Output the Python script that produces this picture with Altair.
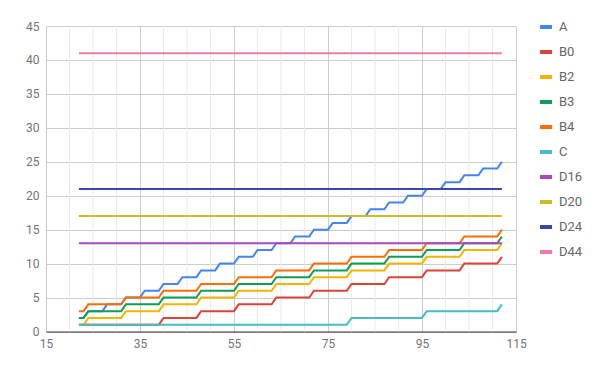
import altair as alt
import pandas as pd

# x positions of the samples (integers 22..112)
x = list(range(22, 113))

A = [2, 2,
     3, 3, 3, 3, 4, 4, 4, 4, 5, 5, 5, 5, 6, 6, 6, 6,
     7, 7, 7, 7, 8, 8, 8, 8, 9, 9, 9, 9, 10, 10, 10, 10,
     11, 11, 11, 11, 12, 12, 12, 12, 13, 13, 13, 13, 14, 14, 14, 14,
     15, 15, 15, 15, 16, 16, 16, 16, 17, 17, 17, 17, 18, 18, 18, 18,
     19, 19, 19, 19, 20, 20, 20, 20, 21, 21, 21, 21, 22, 22, 22, 22,
     23, 23, 23, 23, 24, 24, 24, 24,
     25]

B0 = [1, 1,
      1, 1, 1, 1, 1, 1, 1, 1,
      1, 1, 1, 1, 1, 1, 1, 1,
      2, 2, 2, 2, 2, 2, 2, 2,
      3, 3, 3, 3, 3, 3, 3, 3,
      4, 4, 4, 4, 4, 4, 4, 4,
      5, 5, 5, 5, 5, 5, 5, 5,
      6, 6, 6, 6, 6, 6, 6, 6,
      7, 7, 7, 7, 7, 7, 7, 7,
      8, 8, 8, 8, 8, 8, 8, 8,
      9, 9, 9, 9, 9, 9, 9, 9,
      10, 10, 10, 10, 10, 10, 10, 10,
      11]

B2 = [1, 1,
      2, 2, 2, 2, 2, 2, 2, 2,
      3, 3, 3, 3, 3, 3, 3, 3,
      4, 4, 4, 4, 4, 4, 4, 4,
      5, 5, 5, 5, 5, 5, 5, 5,
      6, 6, 6, 6, 6, 6, 6, 6,
      7, 7, 7, 7, 7, 7, 7, 7,
      8, 8, 8, 8, 8, 8, 8, 8,
      9, 9, 9, 9, 9, 9, 9, 9,
      10, 10, 10, 10, 10, 10, 10, 10,
      11, 11, 11, 11, 11, 11, 11, 11,
      12, 12, 12, 12, 12, 12, 12, 12,
      13]

B3 = [2, 2,
      3, 3, 3, 3, 3, 3, 3, 3,
      4, 4, 4, 4, 4, 4, 4, 4,
      5, 5, 5, 5, 5, 5, 5, 5,
      6, 6, 6, 6, 6, 6, 6, 6,
      7, 7, 7, 7, 7, 7, 7, 7,
      8, 8, 8, 8, 8, 8, 8, 8,
      9, 9, 9, 9, 9, 9, 9, 9,
      10, 10, 10, 10, 10, 10, 10, 10,
      11, 11, 11, 11, 11, 11, 11, 11,
      12, 12, 12, 12, 12, 12, 12, 12,
      13, 13, 13, 13, 13, 13, 13, 13,
      14]

B4 = [3, 3,
      4, 4, 4, 4, 4, 4, 4, 4,
      5, 5, 5, 5, 5, 5, 5, 5,
      6, 6, 6, 6, 6, 6, 6, 6,
      7, 7, 7, 7, 7, 7, 7, 7,
      8, 8, 8, 8, 8, 8, 8, 8,
      9, 9, 9, 9, 9, 9, 9, 9,
      10, 10, 10, 10, 10, 10, 10, 10,
      11, 11, 11, 11, 11, 11, 11, 11,
      12, 12, 12, 12, 12, 12, 12, 12,
      13, 13, 13, 13, 13, 13, 13, 13,
      14, 14, 14, 14, 14, 14, 14, 14,
      15]

C = [1, 1,
     1, 1, 1, 1, 1, 1, 1, 1, 1, 1, 1, 1, 1, 1, 1, 1,
     1, 1, 1, 1, 1, 1, 1, 1, 1, 1, 1, 1, 1, 1, 1, 1,
     1, 1, 1, 1, 1, 1, 1, 1, 1, 1, 1, 1, 1, 1, 1, 1,
     1, 1, 1, 1, 1, 1, 1, 1,
     2, 2, 2, 2, 2, 2, 2, 2, 2, 2, 2, 2, 2, 2, 2, 2,
     3, 3, 3, 3, 3, 3, 3, 3, 3, 3, 3, 3, 3, 3, 3, 3,
     4]

# constant series: endpoints of the horizontal lines
xd = [22, 112]
D16 = [13, 13]
D20 = [17, 17]
D24 = [21, 21]
D44 = [41, 41]

series = ["A", "B0", "B2", "B3", "B4", "C", "D16", "D20", "D24", "D44"]
colors = ["#4285F4", "#DB4437", "#F4B400", "#0F9D58", "#FF6D00",
          "#46BDC6", "#AB47BC", "#C6BE28", "#3949AB", "#F27BA5"]

x_major = [15, 35, 55, 75, 95, 115]
x_minor = [20, 25, 30, 40, 45, 50, 60, 65, 70, 80, 85, 90, 100, 105, 110]
y_ticks = [0, 5, 10, 15, 20, 25, 30, 35, 40, 45]

rows = []
for name, vals in [("A", A), ("B0", B0), ("B2", B2), ("B3", B3), ("B4", B4), ("C", C)]:
    for xi, v in zip(x, vals):
        rows.append({"series": name, "x": xi, "y": v})
for name, vals in [("D16", D16), ("D20", D20), ("D24", D24), ("D44", D44)]:
    for xi, v in zip(xd, vals):
        rows.append({"series": name, "x": xi, "y": v})
df = pd.DataFrame(rows)
df_minor = pd.DataFrame({"x": x_minor})

xscale = alt.Scale(domain=[15, 115], nice=False, zero=False)
yscale = alt.Scale(domain=[0, 45], nice=False)

xaxis = alt.Axis(values=x_major, title=None, grid=True, gridColor="#cccccc",
                 ticks=False, domain=True, domainColor="#333333",
                 labelPadding=7, labelFont="Roboto", labelFontSize=12,
                 labelColor="#757575", labelFlush=False)

minor = alt.Chart(df_minor).mark_rule(color="#ebebeb", strokeWidth=1).encode(
    x=alt.X("x:Q", scale=xscale, axis=xaxis)
)

lines = alt.Chart(df).mark_line(strokeWidth=2, interpolate="linear").encode(
    x=alt.X("x:Q", scale=xscale, axis=xaxis),
    y=alt.Y("y:Q", scale=yscale,
            axis=alt.Axis(values=y_ticks, title=None, grid=True, gridColor="#cccccc",
                          ticks=False, domain=False, labelPadding=7,
                          labelFont="Roboto", labelFontSize=12, labelColor="#757575")),
    color=alt.Color("series:N", scale=alt.Scale(domain=series, range=colors),
                    legend=alt.Legend(title=None, orient="none", legendX=492, legendY=-7,
                                      symbolType="stroke", symbolSize=144,
                                      symbolStrokeWidth=4, labelFont="Roboto",
                                      labelFontSize=13, labelColor="#666666",
                                      labelOffset=5, rowPadding=9, padding=0)),
    detail="series:N",
)

chart = alt.layer(minor, lines).properties(
    width=470, height=305.5,
    autosize=alt.AutoSizeParams(type="none"),
    padding={"left": 46, "top": 26, "right": 84, "bottom": 39.5},
    background="white",
).configure_view(stroke=None)

chart.save("out.html", embed_options={"renderer": "svg", "actions": False})
